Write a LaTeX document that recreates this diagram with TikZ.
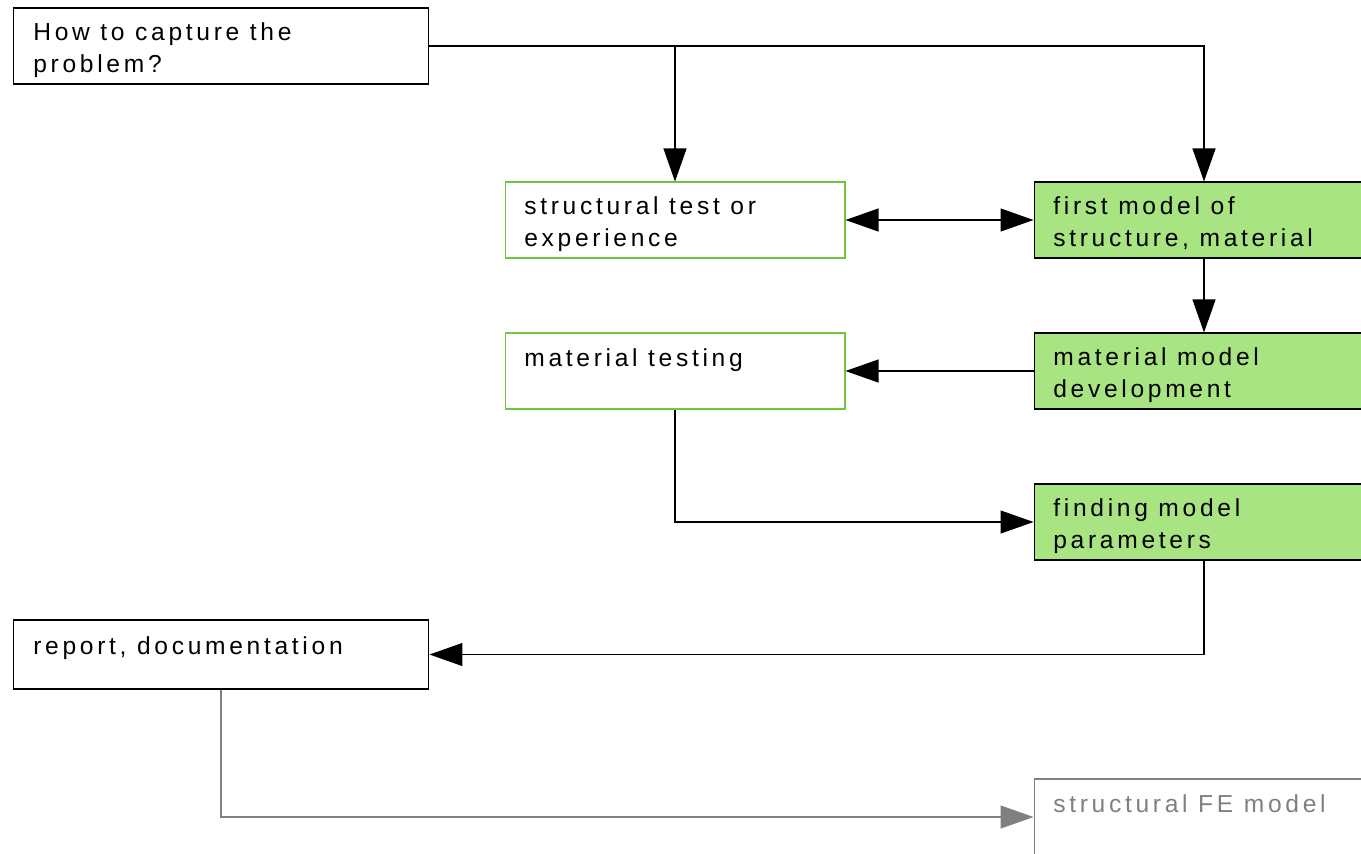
\documentclass[tikz,border=0pt]{standalone}
\usepackage{fontspec}
\setmainfont{Liberation Sans}[LetterSpace=15]
\usetikzlibrary{arrows.meta}

\definecolor{modelgreen}{RGB}{168,228,130}
\definecolor{testgreen}{RGB}{110,200,60}
\definecolor{fegray}{RGB}{128,128,128}

\tikzset{
  box/.style={draw, line width=0.6pt, inner sep=0pt, minimum width=6.8cm, minimum height=1.52cm},
  testbox/.style={box, draw=testgreen},
  modelbox/.style={box, fill=modelgreen},
  txt/.style={anchor=base west, align=left, inner sep=0pt,
    font=\fontsize{14pt}{18pt}\selectfont},
  arr/.style={line width=0.6pt, -{Triangle[length=0.66cm,width=0.46cm]}},
  twoarr/.style={line width=0.6pt, {Triangle[length=0.66cm,width=0.46cm]}-{Triangle[length=0.66cm,width=0.46cm]}}
}

\begin{document}
\begin{tikzpicture}[x=0.02cm, y=-0.02cm]
  \useasboundingbox (0,0) rectangle (1361,853);
  \clip (0,0) rectangle (1361,853);

  %% boxes
  \node[box, minimum width=8.32cm] (q) at (221,46) {};
  \node[testbox] (st) at (675,220) {};
  \node[modelbox] (fm) at (1204,220) {};
  \node[testbox] (mt) at (675,371) {};
  \node[modelbox] (mm) at (1204,371) {};
  \node[modelbox] (fp) at (1204,522) {};
  \node[box, minimum width=8.32cm, minimum height=1.38cm] (rep) at (221,654.5) {};
  \node[box, draw=fegray] (fe) at (1204,817) {};

  %% texts (base = last line)
  \node[txt] (qt) at (33,72) {How to capture the\\problem?};
  \node[txt] (stt) at (524,246) {structural test or\\experience};
  \node[txt] (fmt) at (1053,246) {first model of\\structure, material};
  \node[txt] (mtt) at (524,366) {material testing};
  \node[txt] (mmt) at (1053,397) {material model\\development};
  \node[txt] (fpt) at (1053,548) {finding model\\parameters};
  \node[txt] (rept) at (33,654) {report, documentation};
  \node[txt, text=fegray] (fet) at (1053,812) {structural FE model};

  %% arrows
  \coordinate (split) at (q.east -| st.north);
  \draw[arr] (q.east) -| (fm.north);
  \draw[arr] (split) -- (st.north);
  \draw[twoarr] (st) -- (fm);
  \draw[arr] (fm) -- (mm);
  \draw[arr] (mm) -- (mt);
  \draw[arr] (mt) |- (fp);
  \draw[arr] (fp) |- (rep);
  \draw[arr, color=fegray] (rep) |- (fe);
\end{tikzpicture}
\end{document}
